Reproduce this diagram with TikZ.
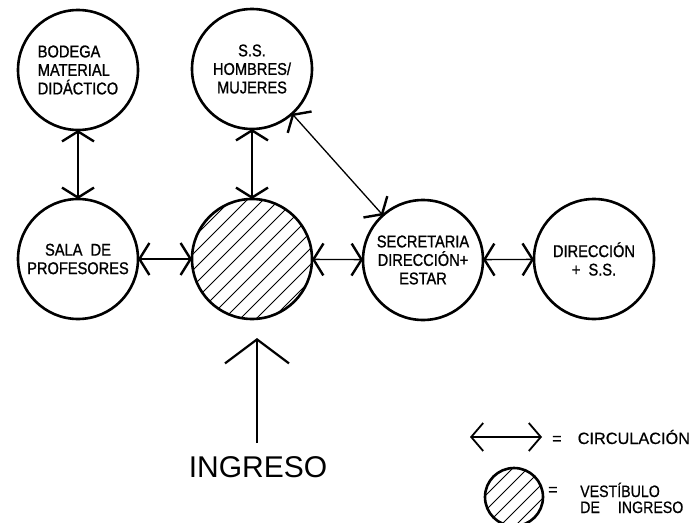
\documentclass[tikz,border=0pt]{standalone}
\usepackage{fontspec}
\setmainfont{Liberation Sans}
\newfontfamily\cad[FakeStretch=0.86,FakeBold=1.0]{Liberation Sans}
\newfontfamily\legfont[FakeBold=0.6]{Liberation Sans}
\newfontfamily\legcad[FakeStretch=0.86,FakeBold=0.6]{Liberation Sans}
\usetikzlibrary{arrows.meta}
\tikzset{
 room/.style={circle, draw, line width=2.6pt, minimum size=120pt, inner sep=0pt, outer sep=0pt, align=center, font=\cad\fontsize{17}{18.5}\selectfont},
 chev/.tip={Straight Barb[length=10pt,width=32pt,line width=2.4pt]},
 conn/.style={line width=1.3pt, chev-chev},
 hatch/.style={line width=0.9pt},
 bigtip/.tip={Straight Barb[length=24pt,width=64pt,line width=2.2pt]},
 smalltip/.tip={Straight Barb[length=12pt,width=28pt,line width=1.8pt]},
 legtext/.style={inner sep=0pt, anchor=base west},
}
\begin{document}
\begin{tikzpicture}[x=1pt,y=-1pt]
\fill[white] (0,0) rectangle (693,522);
\useasboundingbox (0,0) rectangle (693,522);

% hatching of the vestibule
\begin{scope}
 \clip (252,259) circle [radius=60pt];
 \foreach \c in {-96,-80,...,96} \draw[hatch] ({252+\c-100},359) -- ++(200,-200);
\end{scope}

\node[room, align=left] (bod) at (78,70) {BODEGA\\MATERIAL\\DIDÁCTICO};
\node[room] (ss) at (252,69) {S.S.\\HOMBRES/\\MUJERES};
\node[room] (sala) at (78,259) {SALA\ \ DE\\PROFESORES};
\node[room] (ves) at (252,259) {};
\node[room] (sec) at (423,260) {SECRETARIA\\DIRECCIÓN+\\ESTAR};
\node[room] (dir) at (594,259) {DIRECCIÓN\\+\ \ S.S.};

\draw[conn] (bod) -- (sala);
\draw[conn] (ss) -- (ves);
\draw[conn] (sala) -- (ves);
\draw[conn] (ves) -- (sec);
\draw[conn] (sec) -- (dir);
\draw[conn] (ss) -- (sec);

% ingreso
\coordinate (ingtip) at (257,338);
\coordinate (ingbot) at (257,443);
\draw[line width=1.6pt, -bigtip] (ingbot) -- (ingtip);
\node[inner sep=0pt, anchor=base, font=\fontsize{30}{30}\selectfont] (ingtxt) at (258,477) {INGRESO};

% legend
\coordinate (la) at (470,437);
\coordinate (lb) at (542,437);
\draw[line width=1.3pt, smalltip-smalltip] (la) -- (lb);
\node[legtext, font=\legfont\fontsize{16.3}{16}\selectfont] (circ) at (552,444) {=\hspace{16pt}CIRCULACIÓN};

\begin{scope}
 \clip (514,497) circle [radius=29pt];
 \foreach \c in {-45,-30,...,45} \draw[hatch] ({514+\c-50},547) -- ++(100,-100);
\end{scope}
\node[circle, draw, line width=2.6pt, minimum size=58pt, inner sep=0pt] (legc) at (514,497) {};
\node[legtext, font=\legfont\fontsize{16.3}{16}\selectfont] (eq2) at (548,495) {=};
\node[legtext, align=left, font=\legcad\fontsize{16.5}{16}\selectfont] (vest) at (580,513) {VESTÍBULO\\DE\hspace{18pt}INGRESO};
\end{tikzpicture}
\end{document}
